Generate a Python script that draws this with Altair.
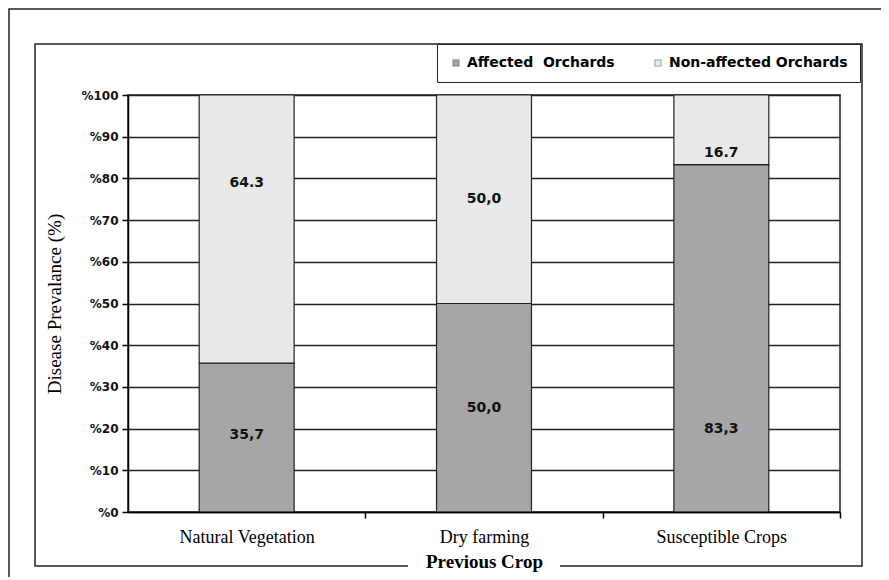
import altair as alt
import pandas as pd

categories = ["Natural Vegetation", "Dry farming", "Susceptible Crops"]
series_names = ["Affected\u00a0\u00a0Orchards", "Non-affected Orchards"]
affected = [35.7, 50.0, 83.3]
non_affected = [64.3, 50.0, 16.7]
affected_text = ["35,7", "50,0", "83,3"]
non_affected_text = ["64.3", "50,0", "16.7"]
# where the printed value labels sit (% units)
affected_text_at = [18.5, 25.0, 20.0]
non_affected_text_at = [79.0, 75.0, 86.0]
y_ticks = [0, 10, 20, 30, 40, 50, 60, 70, 80, 90, 100]

rows = []
for i, c in enumerate(categories):
    rows.append({"crop": c, "series": series_names[0], "value": affected[i], "order": 0})
    rows.append({"crop": c, "series": series_names[1], "value": non_affected[i], "order": 1})
bars_df = pd.DataFrame(rows)

lab_rows = []
for i, c in enumerate(categories):
    lab_rows.append({"crop": c, "txt": affected_text[i], "pos": affected_text_at[i]})
    lab_rows.append({"crop": c, "txt": non_affected_text[i], "pos": non_affected_text_at[i]})
labels_df = pd.DataFrame(lab_rows)

one = pd.DataFrame({"k": [0]})

W, H = 712, 417

x_enc = alt.X(
    "crop:N",
    sort=categories,
    scale=alt.Scale(paddingInner=0.6, paddingOuter=0.3),
    axis=alt.Axis(
        title="Previous Crop",
        titleFont="Liberation Serif",
        titleFontSize=19,
        titleFontWeight="bold",
        titleColor="black",
        titlePadding=6,
        labelFont="Liberation Serif",
        labelFontSize=18,
        labelColor="black",
        labelAngle=0,
        labelPadding=10,
        tickOffset=W / 6,
        labelOffset=-W / 6,
        tickSize=6,
        tickColor="black",
        tickWidth=1.5,
        domainColor="black",
        domainWidth=1.5,
        grid=False,
        zindex=1,
    ),
)

outer = alt.Chart(one).mark_rect(fill=None, stroke="#222", strokeWidth=1.5).encode(
    x=alt.value(-119), x2=alt.value(755), y=alt.value(-86), y2=alt.value(500)
)
inner = alt.Chart(one).mark_rect(fill=None, stroke="#222", strokeWidth=1.5).encode(
    x=alt.value(-93), x2=alt.value(734), y=alt.value(-51), y2=alt.value(471)
)
gap = alt.Chart(one).mark_rect(fill="white", stroke=None).encode(
    x=alt.value(280), x2=alt.value(432), y=alt.value(462), y2=alt.value(480)
)

bars = alt.Chart(bars_df).mark_bar(stroke="#222", strokeWidth=1.2).encode(
    x=x_enc,
    y=alt.Y(
        "value:Q",
        stack="zero",
        scale=alt.Scale(domain=[0, 100], nice=False),
        axis=alt.Axis(
            title="Disease Prevalance (%)",
            titleFont="Liberation Serif",
            titleFontSize=19,
            titleFontWeight="normal",
            titleColor="black",
            titlePadding=16,
            values=y_ticks,
            labelExpr="'%' + datum.value",
            labelFont="DejaVu Sans",
            labelFontSize=12,
            labelFontWeight="bold",
            labelColor="#111",
            labelPadding=4,
            tickSize=6,
            tickColor="black",
            tickWidth=1.5,
            domainColor="black",
            domainWidth=1.5,
            grid=True,
            gridColor="#222",
            gridWidth=1.5,
            gridOpacity=1,
        ),
    ),
    order=alt.Order("order:Q"),
    color=alt.Color(
        "series:N",
        scale=alt.Scale(domain=series_names, range=["#a6a6a6", "#e8e8e8"]),
        legend=alt.Legend(
            title=None,
            orient="none",
            legendX=309,
            legendY=-51,
            direction="horizontal",
            symbolType="square",
            symbolSize=40,
            symbolStrokeColor="#555",
            symbolStrokeWidth=0.5,
            labelFont="DejaVu Sans",
            labelFontSize=14,
            labelFontWeight="bold",
            labelColor="black",
            labelOffset=4,
            columnPadding=36,
            padding=12,
            strokeColor="#222",
            fillColor="white",
            labelLimit=300,
        ),
    ),
)

texts = alt.Chart(labels_df).mark_text(
    font="DejaVu Sans", fontSize=14, fontWeight="bold", color="#111", baseline="middle"
).encode(
    x=alt.X("crop:N", sort=categories),
    y=alt.Y("pos:Q"),
    text="txt:N",
)

chart = alt.layer(outer, inner, gap, bars, texts).properties(
    width=W,
    height=H,
    autosize=alt.AutoSizeParams(type="none"),
    padding={"left": 120, "top": 87, "right": 41, "bottom": 65},
    background="white",
).configure_view(stroke="#222", strokeWidth=1.5)

chart.save("out.html", embed_options={"renderer": "svg", "actions": False})
